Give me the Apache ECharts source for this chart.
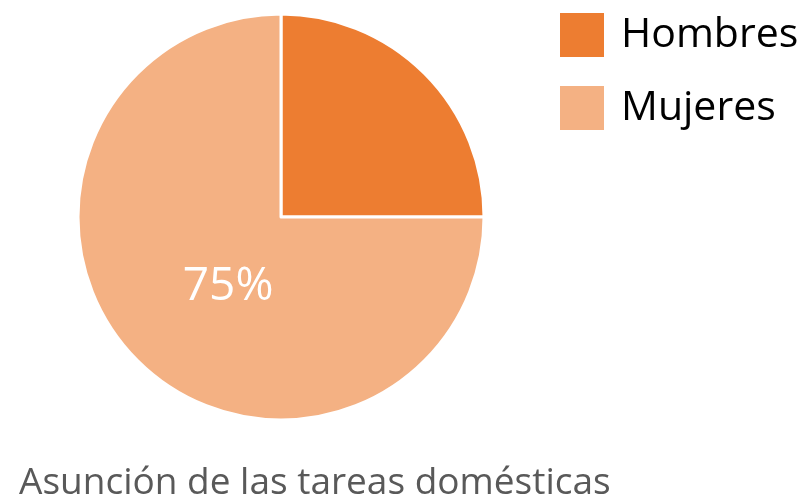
<!DOCTYPE html>
<html>
<head>
<meta charset="utf-8">
<script src="https://cdn.jsdelivr.net/npm/echarts@6/dist/echarts.min.js"></script>
<style>
  html, body { margin: 0; padding: 0; background: #fff; }
  #chart { width: 803px; height: 502px; }
</style>
</head>
<body>
<div id="chart"></div>
<script>
// datos
var categorias = ['Hombres', 'Mujeres']
var valores = [25, 75]
var colores = ['#ED7D31', '#F4B183']
var titulo = 'Asunción de las tareas domésticas'

var chart = echarts.init(document.getElementById('chart'))

var datos = categorias.map(function(nombre, i) {
  return {
    name: nombre,
    value: valores[i],
    itemStyle: { color: colores[i] },
    // solo la etiqueta de Mujeres se ve
    label: { show: i === 1 }
  }
})

var option = {
  animation: false,
  title: {
    text: titulo,
    left: 19,
    top: 465,
    padding: 0,
    textStyle: {
      color: '#595959',
      fontFamily: 'Open Sans',
      fontSize: 37,
      fontWeight: 'normal'
    }
  },
  legend: {
    orient: 'vertical',
    left: 558,
    top: 11,
    padding: 0,
    itemWidth: 46,
    itemHeight: 46,
    itemGap: 25,
    icon: 'rect',
    textStyle: {
      color: '#000',
      fontFamily: 'Open Sans',
      fontSize: 41,
      padding: [0, 0, 0, 11]
    },
    data: categorias
  },
  series: [
    {
      type: 'pie',
      center: [281, 217],
      radius: 203,
      startAngle: 90,
      clockwise: true,
      data: datos,
      itemStyle: {
        borderColor: '#fff',
        borderWidth: 3
      },
      label: {
        position: 'inside',
        formatter: '{c}%',
        color: '#fff',
        fontFamily: 'Open Sans',
        fontSize: 46,
        offset: [21, -4]
      },
      labelLine: { show: false },
      emphasis: { disabled: true }
    }
  ]
}
chart.setOption(option, true)
</script>
</body>
</html>
